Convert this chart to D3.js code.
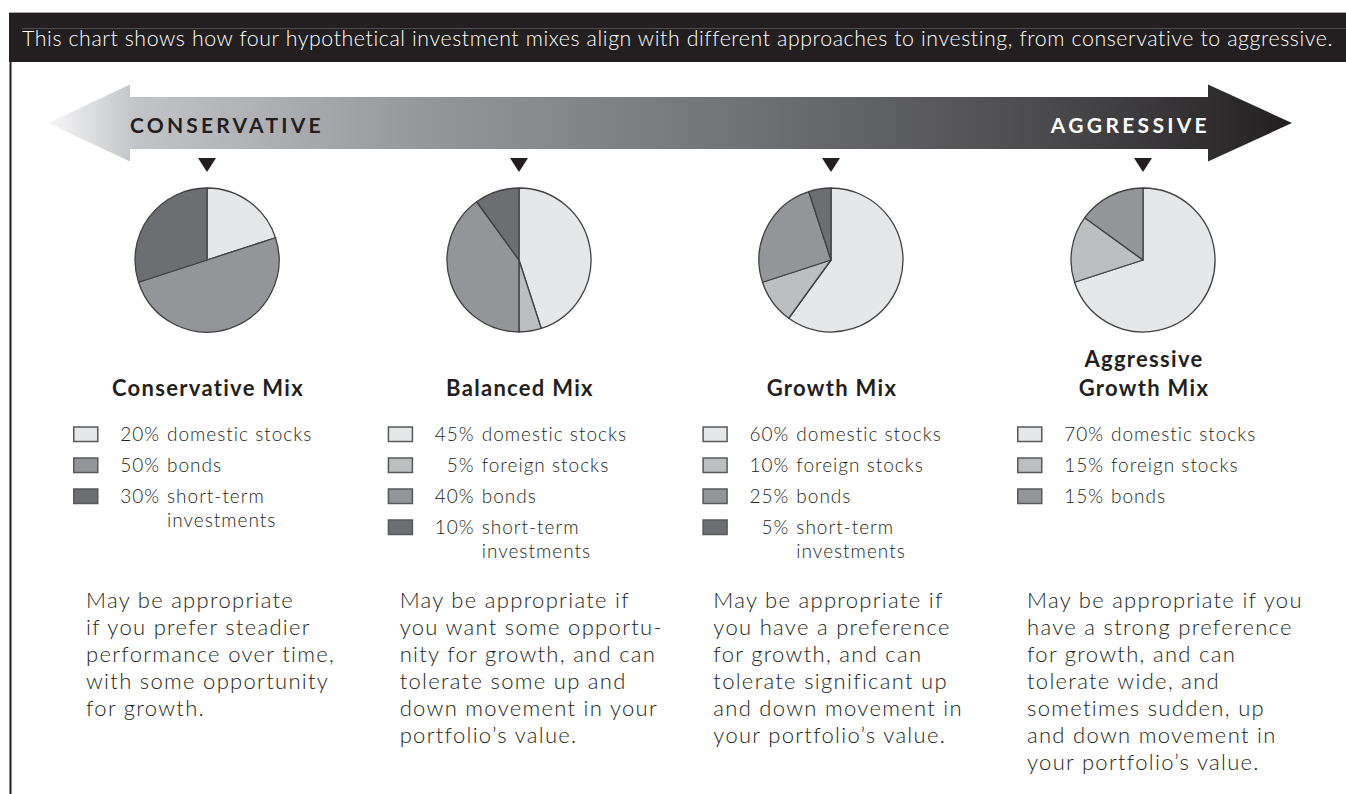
<!DOCTYPE html>
<html>
<head>
<meta charset="utf-8">
<script src="https://cdn.jsdelivr.net/npm/d3@7"></script>
<style>
  body { margin: 0; background: #fff; }
  svg { display: block; }
  text { font-family: Lato, 'Open Sans', sans-serif; fill: #231f20; }
</style>
</head>
<body>
<div id="chart"></div>
<script>
// Chart text and values
const headline = 'This chart shows how four hypothetical investment mixes align with different approaches to investing, from conservative to aggressive.';
const mixNames = ['Conservative Mix', 'Balanced Mix', 'Growth Mix', 'Aggressive Growth Mix'];
const mixTitleLines = [['Conservative Mix'], ['Balanced Mix'], ['Growth Mix'], ['Aggressive', 'Growth Mix']];
const assetClasses = ['domestic stocks', 'foreign stocks', 'bonds', 'short-term investments'];
const assetLabelLines = [['domestic stocks'], ['foreign stocks'], ['bonds'], ['short-term', 'investments']];

// Percentages per mix, in the order of assetClasses
const conservativeMix = [20, 0, 50, 30];
const balancedMix = [45, 5, 40, 10];
const growthMix = [60, 10, 25, 5];
const aggressiveMix = [70, 15, 15, 0];
const mixValues = [conservativeMix, balancedMix, growthMix, aggressiveMix];

const descriptions = [
    ['May be appropriate', 'if you prefer steadier', 'performance over time,', 'with some opportunity', 'for growth.'],
    ['May be appropriate if', 'you want some opportu-', 'nity for growth, and can', 'tolerate some up and', 'down movement in your', 'portfolio\u2019s value.'],
    ['May be appropriate if', 'you have a preference', 'for growth, and can', 'tolerate significant up', 'and down movement in', 'your portfolio\u2019s value.'],
    ['May be appropriate if you', 'have a strong preference', 'for growth, and can', 'tolerate wide, and', 'sometimes sudden, up', 'and down movement in', 'your portfolio\u2019s value.']
];

// Slice colours, one per asset class
const assetColors = ['#e6e7e8', '#bcbec0', '#939598', '#6d6e71'];

const width = 1346;
const height = 794;

const svg = d3.select('#chart').append('svg')
    .attr('width', width)
    .attr('height', height);

// Header bar
svg.append('rect')
    .attr('x', 9).attr('y', 12)
    .attr('width', width - 9).attr('height', 50)
    .attr('fill', '#231f20');
svg.append('line')
    .attr('x1', 9).attr('x2', width).attr('y1', 12.5).attr('y2', 12.5)
    .attr('stroke', '#a7a9ac');
svg.append('line')
    .attr('x1', 22).attr('x2', width).attr('y1', 28.5).attr('y2', 28.5)
    .attr('stroke', '#58585a').attr('stroke-width', 0.8);
const head = svg.append('text')
    .attr('x', 22).attr('y', 46)
    .style('font-size', '21px')
    .style('font-weight', 300)
    .style('letter-spacing', '0.6px')
    .style('fill', '#ffffff')
    .text(headline);
// fit headline to the bar width
const headTarget = 1313;
const headLen = head.node().getComputedTextLength();
head.style('font-size', (21 * headTarget / headLen) + 'px');

// Left frame line
svg.append('line')
    .attr('x1', 10.5).attr('x2', 10.5).attr('y1', 62).attr('y2', height)
    .attr('stroke', '#231f20').attr('stroke-width', 2);

// Gradient arrow (conservative -> aggressive)
const defs = svg.append('defs');
const grad = defs.append('linearGradient')
    .attr('id', 'arrowGrad')
    .attr('gradientUnits', 'userSpaceOnUse')
    .attr('x1', 48).attr('x2', 1292).attr('y1', 0).attr('y2', 0);
[[0, '#f7f7f8'], [0.07, '#c3c4c7'], [0.3, '#96979a'], [0.55, '#727376'], [0.8, '#4b4b4e'], [1, '#231f20']]
    .forEach(s => grad.append('stop').attr('offset', s[0]).attr('stop-color', s[1]));

const arrowY = 123, shaftHalf = 26, headHalf = 38.5;
const arrowLeft = 48, arrowRight = 1292, headLen1 = 82, headLen2 = 84;
const arrowPts = [
    [arrowLeft, arrowY],
    [arrowLeft + headLen1, arrowY - headHalf],
    [arrowLeft + headLen1, arrowY - shaftHalf],
    [arrowRight - headLen2, arrowY - shaftHalf],
    [arrowRight - headLen2, arrowY - headHalf],
    [arrowRight, arrowY],
    [arrowRight - headLen2, arrowY + headHalf],
    [arrowRight - headLen2, arrowY + shaftHalf],
    [arrowLeft + headLen1, arrowY + shaftHalf],
    [arrowLeft + headLen1, arrowY + headHalf]
];
svg.append('path')
    .attr('d', d3.line()(arrowPts) + 'Z')
    .attr('fill', 'url(#arrowGrad)');

svg.append('text')
    .attr('x', 130).attr('y', 133)
    .style('font-size', '21px')
    .style('font-weight', 700)
    .style('letter-spacing', '3.2px')
    .text('CONSERVATIVE');
svg.append('text')
    .attr('x', 1210).attr('y', 133)
    .attr('text-anchor', 'end')
    .style('font-size', '21px')
    .style('font-weight', 700)
    .style('letter-spacing', '3.3px')
    .style('fill', '#ffffff')
    .text('AGGRESSIVE');

// Column scales
const xScale = d3.scalePoint().domain(mixNames).range([207, 1143]);
const legendX = d3.scalePoint().domain(mixNames).range([73, 1017]);
const descX = d3.scalePoint().domain(mixNames).range([86, 1027]);

const pieY = 260;
const radius = 72;
const pie = d3.pie().sort(null).value(d => d.value);
const arc = d3.arc().innerRadius(0).outerRadius(radius);

mixNames.forEach((name, i) => {
    const cx = xScale(name);
    const slices = assetClasses.map((a, j) => ({ asset: a, idx: j, value: mixValues[i][j] }))
        .filter(d => d.value > 0);

    // pointer triangle
    svg.append('path')
        .attr('d', d3.line()([[cx - 9, 158], [cx + 9, 158], [cx, 172]]) + 'Z')
        .attr('fill', '#231f20');

    // pie
    const g = svg.append('g').attr('transform', `translate(${cx}, ${pieY})`);
    g.selectAll('path')
        .data(pie(slices))
        .enter().append('path')
        .attr('d', arc)
        .attr('fill', d => assetColors[d.data.idx])
        .attr('stroke', '#414042')
        .attr('stroke-width', 1.3)
        .attr('stroke-linejoin', 'round');

    // title
    const lines = mixTitleLines[i];
    lines.forEach((t, k) => {
        svg.append('text')
            .attr('x', cx + 1)
            .attr('y', 396 - (lines.length - 1 - k) * 29)
            .attr('text-anchor', 'middle')
            .style('font-size', '22px')
            .style('font-weight', 700)
            .style('letter-spacing', '1.3px')
            .text(t);
    });

    // legend
    const lx = legendX(name);
    let y = 441;
    slices.forEach(d => {
        svg.append('rect')
            .attr('x', lx + 0.75).attr('y', y - 14)
            .attr('width', 24).attr('height', 14.5)
            .attr('fill', assetColors[d.idx])
            .attr('stroke', '#58595b')
            .attr('stroke-width', 1.5);
        svg.append('text')
            .attr('x', lx + 87).attr('y', y)
            .attr('text-anchor', 'end')
            .style('font-size', '19px')
            .style('font-weight', 300)
            .style('letter-spacing', '1px')
            .text(d.value + '%');
        const ll = assetLabelLines[d.idx];
        ll.forEach((t, k) => {
            svg.append('text')
                .attr('x', lx + 94).attr('y', y + k * 24)
                .style('font-size', '19px')
                .style('font-weight', 300)
                .style('letter-spacing', '1px')
                .text(t);
        });
        y += 31;
    });

    // description
    descriptions[i].forEach((t, k) => {
        svg.append('text')
            .attr('x', descX(name))
            .attr('y', 608 + k * 27)
            .style('font-size', '22px')
            .style('font-weight', 300)
            .style('letter-spacing', '1.3px')
            .text(t);
    });
});
</script>
</body>
</html>
